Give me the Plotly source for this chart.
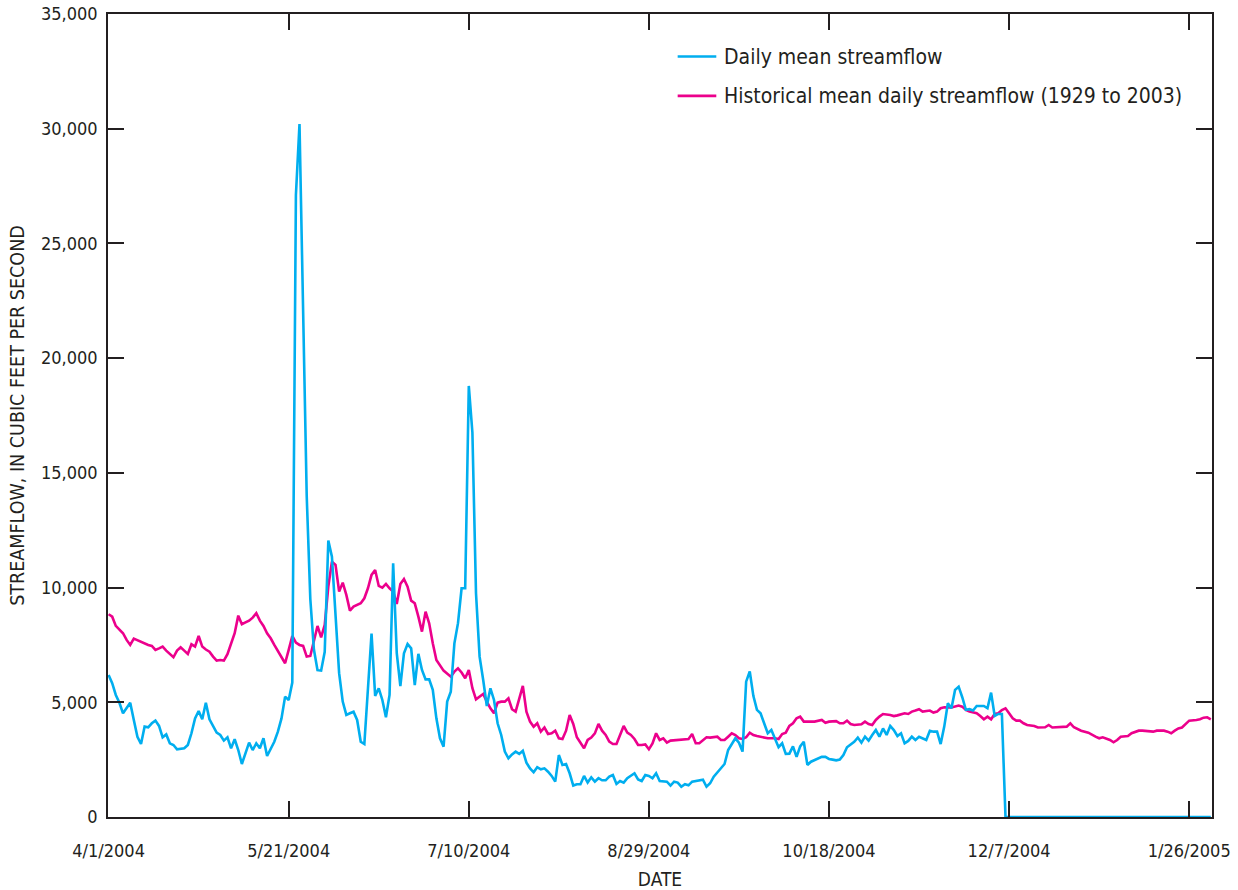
import pandas as pd
import plotly.graph_objects as go

START = "2004-04-01"

# Daily mean streamflow (day offset from 4/1/2004, cfs)
blue_day = [0, 1, 2, 3, 4, 5, 6, 7, 8, 9, 10, 11, 12, 13, 14, 15, 16, 17, 18, 19,
            21, 22, 23, 24, 25, 26, 27, 28, 29, 30, 31, 32, 33, 34, 35, 36, 37, 38, 39, 40,
            41, 42, 43, 44, 45, 46, 47, 48, 49, 50, 51, 52, 53, 54, 55, 56, 57, 58, 59, 60,
            61, 62, 63, 64, 65, 66, 67, 68, 69, 70, 71, 72, 73, 74, 75, 76, 77, 78, 79, 80,
            81, 82, 83, 84, 85, 86, 87, 88, 89, 90, 91, 92, 93, 94, 95, 96, 97, 98, 99, 100,
            101, 102, 103, 104, 105, 106, 107, 108, 109, 110, 111, 112, 113, 114, 115, 116, 117, 118, 119, 120,
            121, 122, 123, 124, 125, 126, 127, 128, 129, 130, 131, 132, 133, 134, 135, 136, 137, 138, 139, 140,
            141, 142, 143, 144, 145, 146, 147, 148, 149, 150, 151, 152, 153, 154, 155, 156, 157, 158, 159, 160,
            161, 162, 163, 164, 165, 166, 167, 168, 169, 170, 171, 172, 173, 174, 175, 176, 177, 178, 179, 180,
            181, 182, 183, 184, 185, 186, 187, 188, 189, 190, 191, 192, 193, 194, 195, 196, 197, 198, 199, 200,
            201, 202, 203, 204, 205, 207, 208, 209, 210, 211, 212, 213, 214, 215, 216, 217, 218, 219, 220,
            221, 222, 223, 224, 225, 227, 228, 229, 230, 231, 232, 233, 234, 235, 236, 237, 238, 239, 240,
            241, 242, 243, 244, 245, 246, 247, 248, 249, 306]
blue_flow = [6190, 5830, 5320, 4980, 4520, 4780, 4980, 4230, 3500, 3180, 3940, 3910, 4085, 4200, 3970, 3475, 3600, 3210, 3140, 2950,
             2995, 3140, 3650, 4300, 4620, 4260, 4980, 4260, 3940, 3675, 3575, 3330, 3475, 2995, 3390, 2920, 2310, 2780, 3240, 2920,
             3210, 2995, 3430, 2660, 2995, 3280, 3720, 4300, 5245, 5100, 5860, 27100, 30200, 21200, 14000, 9500, 7300, 6400, 6380, 7200,
             12050, 11350, 8600, 6270, 5030, 4450, 4520, 4590, 4230, 3280, 3180, 5680, 8000, 5280, 5610, 5100, 4350, 5320, 11060, 7140,
             5710, 7140, 7540, 7350, 5750, 7110, 6410, 6000, 6000, 5540, 4300, 3430, 3065, 5030, 5460, 7570, 8450, 9970, 9970, 18790,
             16760, 9750, 6990, 5970, 4840, 5610, 5100, 4085, 3575, 2850, 2560, 2730, 2850, 2750, 2890, 2370, 2120, 1950, 2170, 2080,
             2120, 1975, 1790, 1540, 2700, 2270, 2310, 1905, 1370, 1430, 1430, 1790, 1500, 1730, 1540, 1690, 1600, 1600, 1760, 1830,
             1440, 1570, 1500, 1690, 1790, 1905, 1640, 1570, 1830, 1790, 1690, 1905, 1570, 1540, 1540, 1370, 1540, 1500, 1320, 1430,
             1380, 1540, 1570, 1630, 1630, 1320, 1470, 1760, 1935, 2120, 2310, 2920, 3180, 3430, 3240, 2850, 5900, 6340, 5280, 4670,
             4520, 4085, 3650, 3790, 3430, 3040, 3210, 2750, 2760, 3080, 2620, 3080, 3280, 2270, 2410, 2470, 2530, 2620, 2620, 2530,
             2500, 2470, 2500, 2700, 3040, 3280, 3460, 3240, 3500, 3330, 3575, 3790, 3500, 3860, 3575, 3970, 3790, 3530, 3650,
             3210, 3315, 3500, 3360, 3500, 3360, 3760, 3720, 3720, 3180, 3940, 4960, 4740, 5540, 5680, 5220, 4670, 4700, 4640,
             4840, 4840, 4840, 4740, 5420, 4400, 4490, 4490, 0, 0]

# Historical mean daily streamflow 1929-2003 (day offset from 4/1, cfs)
hist_day = [0, 1, 2, 3, 4, 5, 6, 7, 8, 9, 10, 11, 12, 13, 14, 15, 16, 17, 18, 19,
            20, 21, 22, 23, 24, 25, 26, 27, 28, 29, 30, 31, 32, 33, 34, 35, 36, 37, 38, 39,
            40, 41, 42, 43, 44, 45, 46, 47, 48, 49, 50, 51, 52, 53, 54, 55, 56, 57, 58, 59,
            60, 61, 62, 63, 64, 65, 66, 67, 68, 70, 71, 72, 73, 74, 75, 76, 77, 78, 79, 80,
            81, 82, 83, 84, 85, 86, 87, 88, 89, 90, 91, 93, 94, 95, 96, 97, 98, 99, 100,
            101, 102, 103, 104, 105, 106, 107, 108, 109, 110, 111, 112, 113, 114, 115, 116, 117, 118, 119, 120,
            121, 122, 123, 124, 125, 126, 127, 128, 129, 130, 131, 132, 133, 134, 135, 136, 137, 138, 139, 140,
            141, 142, 143, 144, 145, 146, 147, 148, 149, 150, 151, 152, 153, 154, 155, 156, 158, 160,
            161, 162, 163, 164, 165, 166, 167, 169, 170, 171, 172, 173, 174, 175, 176, 177, 178, 179, 180,
            182, 183, 185, 186, 187, 188, 189, 190, 191, 192, 193, 195, 196, 198, 199, 200,
            202, 203, 204, 205, 206, 207, 209, 210, 211, 212, 213, 214, 215, 217, 218, 219,
            221, 222, 223, 224, 225, 226, 228, 229, 230, 231, 232, 234, 235, 236, 237, 238, 239,
            241, 242, 243, 244, 245, 246, 247, 248, 249, 250, 251, 252, 253, 254, 255, 257, 258, 260,
            261, 262, 263, 265, 266, 267, 268, 270, 271, 272, 274, 275, 276, 278, 279, 280,
            281, 283, 284, 286, 287, 288, 290, 291, 293, 294, 295, 296, 297, 298, 299, 300,
            302, 303, 304, 305, 306]
hist_flow = [8840, 8730, 8330, 8150, 8010, 7720, 7500, 7775, 7700, 7644, 7550, 7499, 7456, 7281, 7350, 7427, 7252, 7100, 6963, 7252,
             7397, 7252, 7107, 7528, 7427, 7891, 7427, 7300, 7208, 6990, 6816, 6845, 6816, 7100, 7600, 8009, 8777, 8400, 8480, 8559,
             8690, 8881, 8559, 8328, 8009, 7790, 7500, 7250, 6990, 6700, 7281, 7891, 7600, 7500, 7456, 6990, 7020, 7688, 8328, 7833,
             8371, 10041, 11131, 10987, 9823, 10216, 9679, 8995, 9169, 9315, 9533, 9971, 10551, 10769, 10071, 10000, 10158, 9971, 9823, 9286,
             10158, 10376, 10041, 9431, 9315, 8733, 8079, 8951, 8445, 7573, 6845, 6380, 6235, 6118, 6336, 6482, 6300, 6047, 6409,
             5611, 5130, 5245, 5363, 5027, 4739, 4521, 4984, 5027, 5027, 5175, 4696, 4593, 5101, 5712, 4593, 4157, 3937, 4085, 3719,
             3900, 3619, 3645, 3763, 3431, 3400, 3763, 4447, 4055, 3475, 3213, 2995, 3357, 3460, 3645, 4055, 3763, 3575, 3283, 3180,
             3180, 3575, 3967, 3680, 3575, 3400, 3139, 3139, 3160, 2951, 3210, 3649, 3357, 3430, 3240, 3330, 3357, 3357,
             3400, 3619, 3213, 3213, 3357, 3475, 3460, 3500, 3357, 3357, 3500, 3649, 3575, 3430, 3400, 3475, 3675, 3575, 3530,
             3460, 3430, 3430, 3400, 3619, 3675, 3967, 4085, 4303, 4375, 4157, 4157, 4157, 4230, 4110, 4157,
             4180, 4085, 4085, 4200, 4055, 4010, 4040, 4157, 4055, 4010, 4230, 4375, 4490, 4447, 4400, 4430,
             4521, 4490, 4593, 4640, 4700, 4593, 4640, 4550, 4593, 4739, 4783, 4770, 4810, 4855, 4810, 4665, 4593,
             4521, 4400, 4259, 4375, 4259, 4490, 4521, 4665, 4739, 4521, 4303, 4200, 4200, 4085, 4010, 3967, 3900, 3910,
             4010, 3900, 3910, 3937, 3937, 4085, 3910, 3763, 3720, 3675, 3500, 3430, 3475, 3357, 3255, 3357,
             3500, 3530, 3649, 3763, 3763, 3750, 3720, 3763, 3763, 3720, 3649, 3763, 3860, 3900, 4055, 4200,
             4230, 4259, 4330, 4345, 4259]

tick_dates = ["2004-04-01", "2004-05-21", "2004-07-10", "2004-08-29", "2004-10-18", "2004-12-07", "2005-01-26"]
tick_labels = ["4/1/2004", "5/21/2004", "7/10/2004", "8/29/2004", "10/18/2004", "12/7/2004", "1/26/2005"]
y_ticks = [0, 5000, 10000, 15000, 20000, 25000, 30000, 35000]

series_names = ["Daily mean streamflow", "Historical mean daily streamflow (1929 to 2003)"]
series_colors = ["#00AEEF", "#EC008C"]

start = pd.Timestamp(START)
blue_x = [start + pd.Timedelta(days=d) for d in blue_day]
hist_x = [start + pd.Timedelta(days=d) for d in hist_day]

FONT = "DejaVu Sans Condensed, Liberation Sans Narrow, sans-serif"
INK = "#231F20"

fig = go.Figure()
fig.add_trace(go.Scatter(x=hist_x, y=hist_flow, mode="lines", name=series_names[1],
                         line=dict(color=series_colors[1], width=2.6), showlegend=False))
fig.add_trace(go.Scatter(x=blue_x, y=blue_flow, mode="lines", name=series_names[0],
                         line=dict(color=series_colors[0], width=2.6), showlegend=False))

# legend drawn manually
leg_x0, leg_x1, leg_y = 0.516, 0.551, [0.947, 0.898]
for i in range(2):
    fig.add_shape(type="line", xref="paper", yref="paper", x0=leg_x0, x1=leg_x1,
                  y0=leg_y[i], y1=leg_y[i], line=dict(color=series_colors[i], width=2.6))
    fig.add_annotation(xref="paper", yref="paper", x=leg_x1 + 0.005, y=leg_y[i],
                       text=series_names[i], showarrow=False, xanchor="left", yanchor="middle",
                       font=dict(family=FONT, size=21, color=INK))

axis_common = dict(showline=True, linecolor=INK, linewidth=1.5, mirror="ticks",
                   ticks="inside", ticklen=16, tickwidth=1.5, tickcolor=INK,
                   showgrid=False, zeroline=False, automargin=False,
                   tickfont=dict(family=FONT, size=18, color=INK))

fig.update_xaxes(type="date", range=["2004-03-31 20:00", "2005-02-01 08:00"],
                 tickvals=tick_dates, ticktext=tick_labels, ticklabelstandoff=17,
                 title=dict(text="DATE", font=dict(family=FONT, size=19, color=INK), standoff=18),
                 **axis_common)
fig.update_yaxes(range=[0, 35000], tickvals=y_ticks, tickformat=",", ticklabelstandoff=5,
                 title=dict(text="STREAMFLOW, IN CUBIC FEET PER SECOND",
                            font=dict(family=FONT, size=19.5, color=INK), standoff=11),
                 **axis_common)

fig.update_layout(width=1238, height=890, margin=dict(l=108, r=26, t=14, b=73),
                  plot_bgcolor="white", paper_bgcolor="white", showlegend=False)

fig.write_html("out.html")
